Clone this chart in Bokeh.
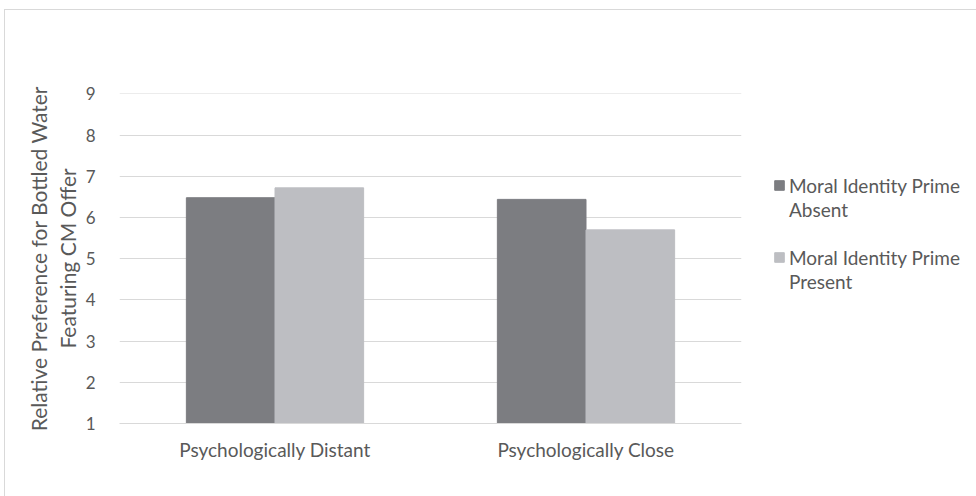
from bokeh.plotting import figure
from bokeh.models import ColumnDataSource, Range1d, Legend, LegendItem, FixedTicker
from bokeh.transform import dodge
from bokeh.embed import file_html
from bokeh.resources import INLINE

categories = ["Psychologically Distant", "Psychologically Close"]
series_lines = [["Moral Identity Prime", "Absent"], ["Moral Identity Prime", "Present"]]
absent = [6.48, 6.44]
present = [6.72, 5.70]
y_ticks = [1, 2, 3, 4, 5, 6, 7, 8, 9]

FONT = "Lato"
TXT = "#595959"
GRID = "#d9d9d9"
DARK = "#7c7d81"
LIGHT = "#bdbec2"

src = ColumnDataSource(dict(cat=categories, absent=absent, present=present))

p = figure(x_range=categories, y_range=Range1d(1, 9.01), frame_width=622, frame_height=330,
           output_backend="svg", toolbar_location=None,
           min_border_left=114, min_border_right=0, min_border_top=83, min_border_bottom=73,
           styles={"margin-left": "4px", "margin-top": "9px",
                   "border-left": "1px solid #d9d9d9", "border-top": "1px solid #d9d9d9"})
p.x_range.range_padding = 0
p.outline_line_color = None
p.background_fill_color = "white"
p.border_fill_color = "white"

bw = 0.285
r1 = p.vbar(x=dodge("cat", -bw / 2, range=p.x_range), top="absent", bottom=1, width=bw,
            source=src, fill_color=DARK, line_color=DARK)
r2 = p.vbar(x=dodge("cat", bw / 2, range=p.x_range), top="present", bottom=1, width=bw,
            source=src, fill_color=LIGHT, line_color=LIGHT)
blank = p.vbar(x=[], top=[], width=0.1, fill_alpha=0, line_alpha=0)

p.xgrid.grid_line_color = None
p.ygrid.grid_line_color = GRID
p.ygrid.grid_line_width = 1

p.yaxis.ticker = FixedTicker(ticks=y_ticks)
p.yaxis.axis_line_color = None
p.yaxis.major_tick_line_color = None
p.yaxis.minor_tick_line_color = None
p.yaxis.major_label_text_font = FONT
p.yaxis.major_label_text_font_size = "17px"
p.yaxis.major_label_text_color = TXT
p.yaxis.major_label_standoff = 18
p.yaxis.axis_label = "Relative Preference for Bottled Water\nFeaturing CM Offer"
p.yaxis.axis_label_text_font = FONT
p.yaxis.axis_label_text_font_size = "21px"
p.yaxis.axis_label_text_font_style = "normal"
p.yaxis.axis_label_text_color = TXT
p.yaxis.axis_label_text_line_height = 1.15
p.yaxis.axis_label_standoff = 3

p.xaxis.axis_line_color = GRID
p.xaxis.major_tick_line_color = None
p.xaxis.minor_tick_line_color = None
p.xaxis.major_label_text_font = FONT
p.xaxis.major_label_text_font_size = "19px"
p.xaxis.major_label_text_color = TXT
p.xaxis.major_label_standoff = 8

items = [LegendItem(label=" ", renderers=[blank]),
         LegendItem(label=" ", renderers=[blank]),
         LegendItem(label=series_lines[0][0], renderers=[r1]),
         LegendItem(label=series_lines[0][1], renderers=[blank]),
         LegendItem(label=" ", renderers=[blank]),
         LegendItem(label=series_lines[1][0], renderers=[r2]),
         LegendItem(label=series_lines[1][1], renderers=[blank])]
legend = Legend(items=items, location="top_left")
legend.border_line_color = None
legend.background_fill_alpha = 0
legend.padding = 0
legend.margin = 32
legend.spacing = 0
legend.label_height = 24
legend.glyph_width = 12
legend.glyph_height = 12
legend.label_standoff = 4
legend.label_text_font = FONT
legend.label_text_font_size = "19px"
legend.label_text_color = TXT
p.add_layout(legend, "right")

open("out.html", "w").write(file_html(p, INLINE))
